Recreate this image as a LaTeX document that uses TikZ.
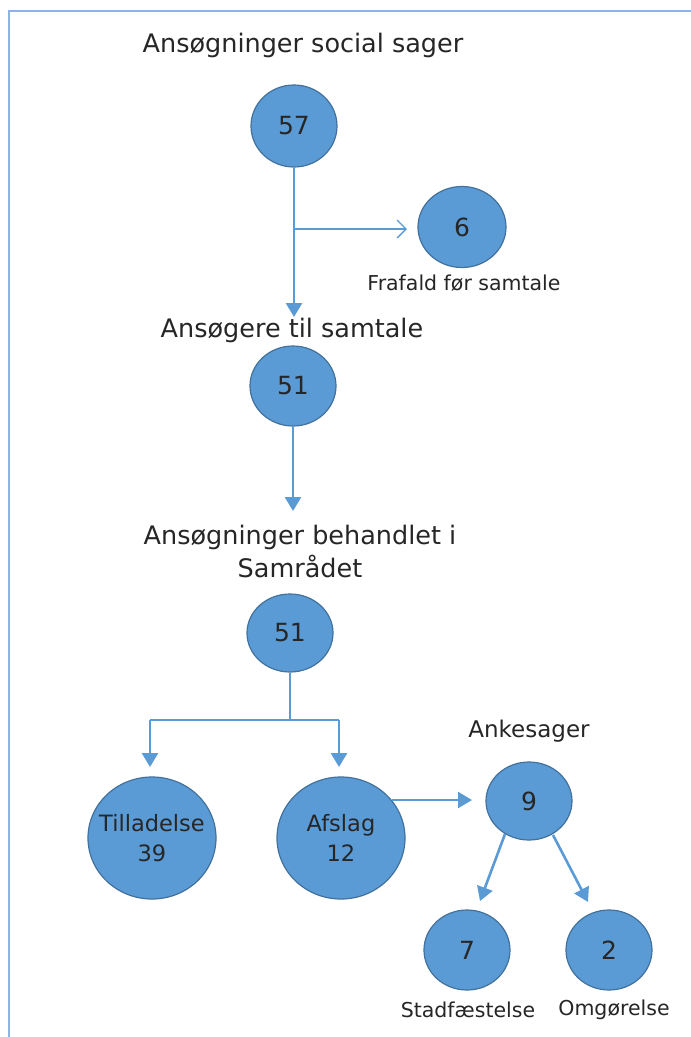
\documentclass[tikz,border=0pt]{standalone}
\usepackage{fontspec}
\setmainfont{DejaVu Sans}
\usetikzlibrary{arrows.meta,shapes.geometric}
\definecolor{cfill}{HTML}{5B9BD5}
\definecolor{cdraw}{HTML}{41719C}
\definecolor{cline}{HTML}{5B9BD5}
\definecolor{cframe}{HTML}{8DB4E2}
\definecolor{ctext}{HTML}{262626}
\begin{document}
\begin{tikzpicture}[x=1pt,y=-1pt,
  circ/.style={ellipse,fill=cfill,draw=cdraw,line width=1.2pt,minimum width=86pt,minimum height=80pt,inner sep=0pt,text=ctext,font=\fontsize{25}{30}\selectfont,align=center},
  bigc/.style={circ,minimum width=128pt,minimum height=122pt,inner xsep=-14pt,inner ysep=-4pt,font=\fontsize{22.5}{30}\selectfont},
  ttl/.style={text=ctext,font=\fontsize{25.5}{33}\selectfont,align=center,inner sep=0pt},
  lbl/.style={text=ctext,font=\fontsize{20.5}{24}\selectfont,inner sep=0pt},
  conn/.style={draw=cline,line width=2.6pt,-{Triangle[length=14pt,width=16pt]}},
  plain/.style={draw=cline,line width=2.6pt},
  thin/.style={draw=cline,line width=1.4pt,-{Straight Barb[length=9pt,width=18pt,line width=1.4pt]}}
]
\useasboundingbox (0,0) rectangle (691,1037);
\fill[white] (0,0) rectangle (691,1037);
\draw[cframe,line width=2.2pt] (9,1037) -- (9,11) -- (691,11);

\node[ttl] (t1) at (303,45) {Ansøgninger social sager};
\node[circ,minimum height=82pt] (c57) at (294,126) {57};
\node[circ,minimum width=88pt,minimum height=81pt] (c6) at (462,227) {6};
\node[lbl] (l6) at (464,283) {Frafald før samtale};
\node[ttl] (t2) at (292,330) {Ansøgere til samtale};
\node[circ] (c51a) at (293,386) {51};
\node[ttl] (t3) at (300,551) {Ansøgninger behandlet i\\Samrådet};
\node[circ,minimum height=78pt] (c51b) at (290,633) {51};
\node[bigc] (ctil) at (152,838) {Tilladelse\\39};
\node[bigc] (cafs) at (341,838) {Afslag\\12};
\node[ttl,font=\fontsize{23}{28}\selectfont] (t4) at (529,731) {Ankesager};
\node[circ,minimum height=78pt] (c9) at (529,801) {9};
\node[circ] (c7) at (467,950) {7};
\node[circ] (c2) at (609,950) {2};
\node[lbl] (l7) at (468,1010) {Stadfæstelse};
\node[lbl] (l2) at (614,1010) {Omgørelse};

\coordinate (j1) at (294,229);
\coordinate (e0) at (407,229);
\coordinate (e1) at (294,317);
\draw[conn] (c57.south) -- (e1);
\draw[thin] (j1) -- (e0);
\coordinate (e2) at (293,511);
\draw[conn] (c51a.south) -- (e2);
\coordinate (j2) at (290,720);
\coordinate (jl) at (150,720);
\coordinate (jr) at (339,720);
\draw[plain] (c51b.south) -- (j2);
\draw[plain] (jl) -- (jr);
\draw[conn] (jl) -- (150,767);
\draw[conn] (jr) -- (339,767);
\coordinate (a1) at (392,800);
\coordinate (a2) at (472,800);
\draw[conn] (a1) -- (a2);
\coordinate (b1) at (505,834);
\coordinate (b2) at (480,901);
\coordinate (b3) at (553,835);
\coordinate (b4) at (588,902);
\draw[conn] (b1) -- (b2);
\draw[conn] (b3) -- (b4);
\end{tikzpicture}
\end{document}
